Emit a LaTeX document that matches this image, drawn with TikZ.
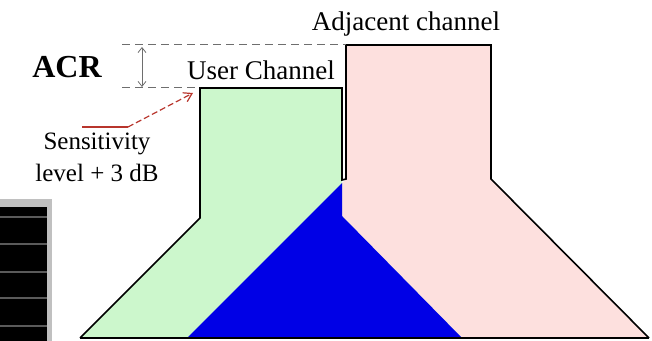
\documentclass[tikz,border=0pt]{standalone}
\usepackage{fontspec}
\setmainfont{Liberation Serif}
\usepackage{tikz}
\usetikzlibrary{arrows.meta, positioning, calc}
\definecolor{usergreen}{HTML}{CCF7CC}
\definecolor{adjpink}{HTML}{FDE0DE}
\definecolor{overlapblue}{HTML}{0000E6}
\definecolor{arrowred}{HTML}{B8352C}
\definecolor{guidegray}{HTML}{6E6E6E}
\definecolor{framegray}{HTML}{C0C0C0}
\definecolor{rulegray}{HTML}{5A5A5A}

\begin{document}
\begin{tikzpicture}[
    x=0.5pt, y=-0.5pt,
    lbl/.style={inner sep=0pt, font=\fontsize{13.5}{16}\selectfont},
    senslbl/.style={inner sep=0pt, align=center, font=\fontsize{12.5}{16}\selectfont},
    acrlbl/.style={inner sep=0pt, font=\fontsize{16}{18}\selectfont\bfseries},
    outline/.style={draw=black, line width=0.8pt, line join=miter},
    guide/.style={draw=guidegray, line width=0.5pt, dash pattern=on 4pt off 2.5pt},
    span/.style={{Straight Barb[length=2.5pt,width=4pt]}-{Straight Barb[length=2.5pt,width=4pt]}, draw=guidegray, line width=0.4pt},
    pointer/.style={-{Straight Barb[length=4pt,width=5pt]}, draw=arrowred, line width=0.6pt},
]
    \useasboundingbox (0,0) rectangle (652,341);

    % Cropped panel at the bottom left
    \fill[framegray] (0,199) rectangle (52,341);
    \fill[black] (0,207) rectangle (47,341);
    \foreach \y in {217,244,272,298,326}
        \draw[rulegray, line width=0.6pt] (0,\y) -- (47,\y);

    % Channel corners
    \coordinate (gbl) at (80,338);
    \coordinate (gls) at (200,218);
    \coordinate (gtl) at (200,88);
    \coordinate (gtr) at (342,88);
    \coordinate (grs) at (342,216);
    \coordinate (gbr) at (462,338);
    \coordinate (pbl) at (187,338);
    \coordinate (pls) at (346,179);
    \coordinate (ptl) at (346,45);
    \coordinate (ptr) at (491,45);
    \coordinate (prs) at (491,179);
    \coordinate (pbr) at (649,338);
    \coordinate (ovtop) at (342,183);

    % Spectra
    \fill[adjpink] (pbl) -- (pls) -- (ptl) -- (ptr) -- (prs) -- (pbr) -- cycle;
    \fill[usergreen] (gbl) -- (gls) -- (gtl) -- (gtr) -- (grs) -- (gbr) -- cycle;
    \fill[overlapblue] (pbl) -- (ovtop) -- (grs) -- (gbr) -- cycle;
    \draw[outline] (gbl) -- (gls) -- (gtl) -- (gtr) -- (342,180) -- (pls) -- (ptl) -- (ptr) -- (prs) -- (pbr);
    \draw[outline] (gbl) -- (pbr);

    % ACR guides
    \coordinate (dtop) at (122,45);
    \coordinate (dbot) at (122,88);
    \coordinate (atop) at (142,47);
    \coordinate (abot) at (142,87);
    \draw[guide] (dtop) -- (ptl);
    \draw[guide] (dbot) -- (gtl);
    \draw[span] (atop) -- (abot);

    % Labels
    \node[acrlbl] (acr) at (67,67) {ACR};
    \node[lbl, anchor=base] (user) at (261,80) {User Channel};
    \node[lbl, anchor=base] (adj) at (406,31) {Adjacent channel};
    \node[senslbl, anchor=north] (sens) at (97,133) {Sensitivity\\level + 3 dB};

    % Pointer to the user channel level
    \coordinate (rs) at (82,127);
    \coordinate (rk) at (128,127);
    \coordinate (rt) at (193,93);
    \draw[arrowred, line width=0.6pt] (rs) -- (rk);
    \draw[pointer, dash pattern=on 3pt off 1.5pt] (rk) -- (rt);
\end{tikzpicture}
\end{document}
